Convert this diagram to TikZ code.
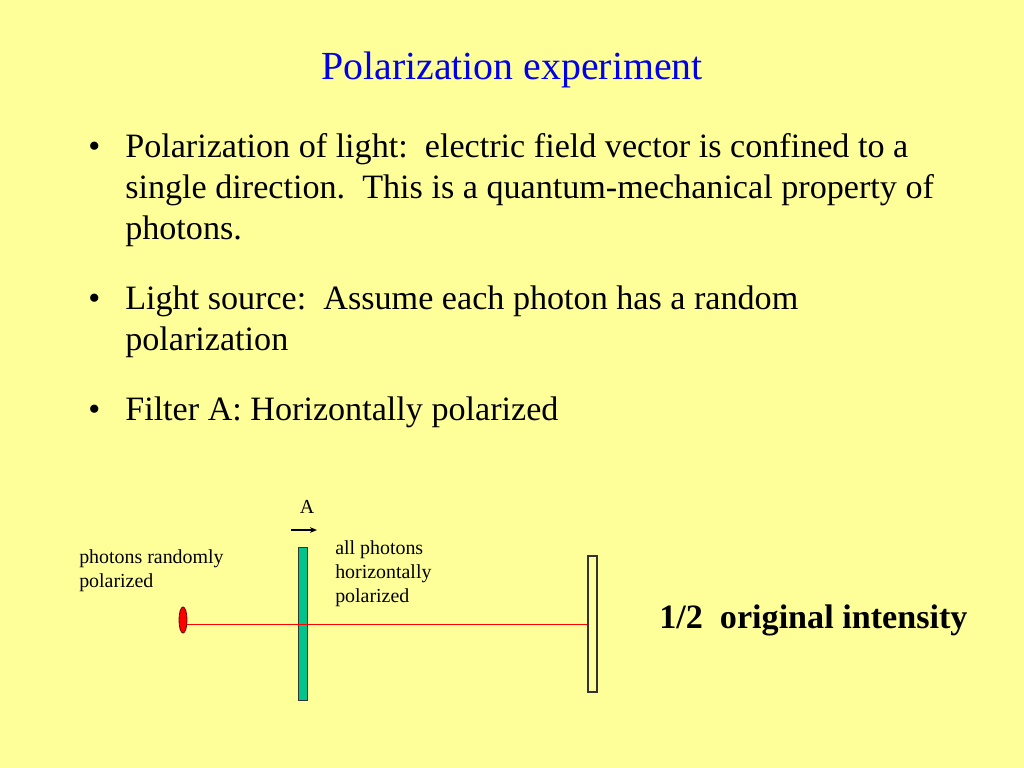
\documentclass[tikz,border=0pt]{standalone}
\usepackage{fontspec}
\setmainfont{Liberation Serif}
\usetikzlibrary{shapes.geometric,arrows.meta}
\definecolor{bgyellow}{RGB}{255,255,153}
\definecolor{titleblue}{RGB}{0,0,235}
\definecolor{filtergreen}{RGB}{0,196,140}
\definecolor{darkred}{RGB}{110,0,0}
\tikzset{
  body/.style={anchor=base west, inner sep=0pt, font=\fontsize{24}{28.8}\selectfont},
  label/.style={anchor=base west, inner sep=0pt, font=\fontsize{14}{16.8}\selectfont},
}
\begin{document}
\begin{tikzpicture}[x=0.703125pt,y=-0.703125pt]
\fill[bgyellow] (0,0) rectangle (1024,768);
\useasboundingbox (0,0) rectangle (1024,768);
% title
\node[anchor=base, inner sep=0pt, text=titleblue, font=\fontsize{28}{33.6}\selectfont] (title) at (512,80) {Polarization experiment};
% bullet 1
\node[body] (b1) at (88,158) {•};
\node[body] (l1a) at (125,158) {Polarization of light:\ \ electric field vector is confined to a};
\node[body] (l1b) at (125,199) {single direction.\ \ This is a quantum-mechanical property of};
\node[body] (l1c) at (125,240) {photons.};
% bullet 2
\node[body] (b2) at (88,309) {•};
\node[body] (l2a) at (125,309) {Light source:\ \ Assume each photon has a random};
\node[body] (l2b) at (125,350) {polarization};
% bullet 3
\node[body] (b3) at (88,420) {•};
\node[body] (l3a) at (125,420) {Filter A: Horizontally polarized};
% diagram
\node[draw=darkred, fill=red, ellipse, minimum width=8*0.703125pt, minimum height=26*0.703125pt, inner sep=0pt, line width=0.6pt] (src) at (183,620) {};
\node[draw=black!80, fill=filtergreen, rectangle, minimum width=9*0.703125pt, minimum height=153*0.703125pt, inner sep=0pt, line width=0.5pt] (filterA) at (302.5,623.5) {};
\node[draw=black!80, fill=bgyellow, rectangle, minimum width=9*0.703125pt, minimum height=136*0.703125pt, inner sep=0pt, line width=0.8pt] (screen) at (592.5,624) {};
\draw[red, line width=0.6pt] (src.east |- screen.west) -- (screen.west);
% labels
\node[anchor=base, inner sep=0pt, font=\fontsize{14}{16.8}\selectfont] (labA) at (307,513) {A};
\coordinate (arrS) at (291,530);
\coordinate (arrE) at (317,530);
\draw[-{Stealth[length=5pt,width=4pt]}, line width=0.8pt] (arrS) -- (arrE);
\node[label] (lab1a) at (79,563) {photons randomly};
\node[label] (lab1b) at (79,587) {polarized};
\node[label] (lab2a) at (335,554) {all photons};
\node[label] (lab2b) at (335,578) {horizontally};
\node[label] (lab2c) at (335,602) {polarized};
\node[anchor=base west, inner sep=0pt, font=\fontsize{24}{28.8}\selectfont\bfseries] (result) at (659,628) {1/2\ \ original intensity};
\end{tikzpicture}
\end{document}
